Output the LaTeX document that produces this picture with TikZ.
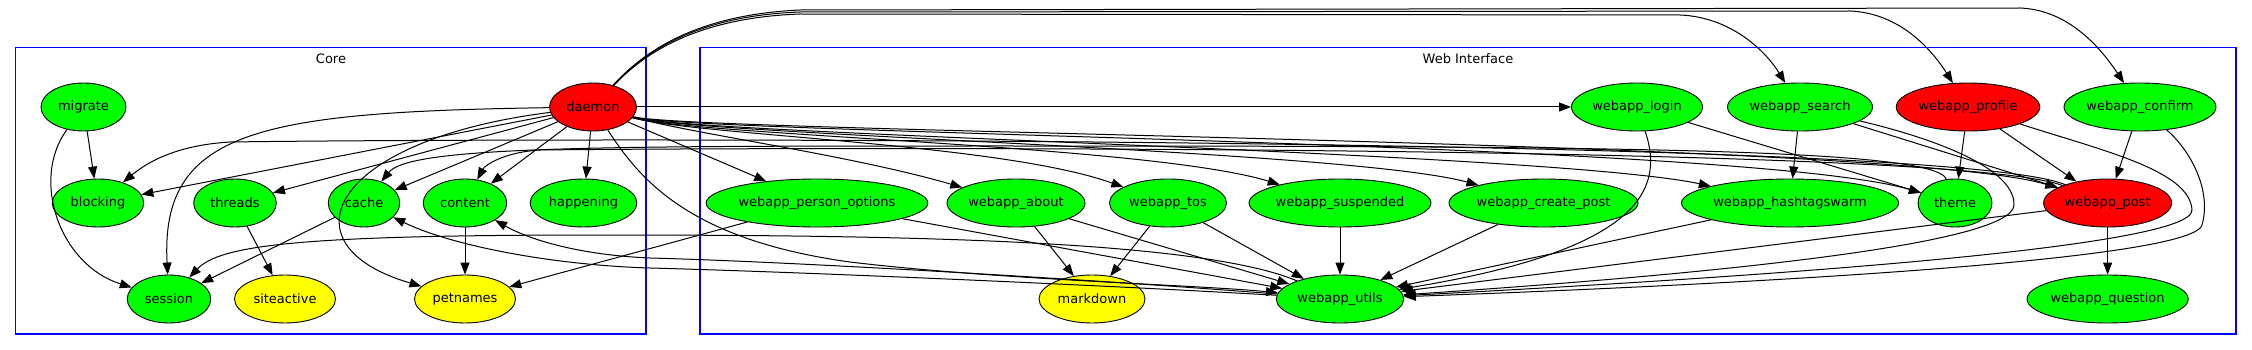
\documentclass[tikz,border=0pt]{standalone}
\usepackage{fontspec}
\setmainfont{DejaVu Sans}
\usetikzlibrary{shapes.geometric,arrows.meta}
\definecolor{ngreen}{HTML}{00FF00}
\definecolor{nred}{HTML}{FF0000}
\definecolor{nyellow}{HTML}{FFFF00}
\definecolor{cblue}{HTML}{0000FF}
\begin{document}
\begin{tikzpicture}[x=1pt,y=-1pt,
  nd/.style={ellipse,draw=black,line width=0.9pt,inner sep=0pt,minimum height=48pt,font=\fontsize{13}{15}\selectfont},
  gn/.style={nd,fill=ngreen},
  rn/.style={nd,fill=nred},
  yn/.style={nd,fill=nyellow},
  edge/.style={draw=black,line width=1pt,-{Triangle[length=12pt,width=9pt]}},
  clusterbox/.style={draw=cblue,line width=1.2pt},
  clabel/.style={font=\fontsize{13}{15}\selectfont,inner sep=0pt}]
\useasboundingbox (0,0) rectangle (2252,350);
\fill[white] (0,0) rectangle (2252,350);
% clusters
\draw[clusterbox] (15.6,47.7) rectangle (646,334);
\draw[clusterbox] (700,47.7) rectangle (2236,334);
\node[clabel] (corelabel) at (331,59) {Core};
\node[clabel] (weblabel) at (1468,59) {Web Interface};
% core nodes
\node[gn,minimum width=85pt] (migrate) at (83.5,107) {migrate};
\node[rn,minimum width=87pt] (daemon) at (593,107) {daemon};
\node[gn,minimum width=91.5pt] (blocking) at (98,203) {blocking};
\node[gn,minimum width=82.6pt] (threads) at (235,203) {threads};
\node[gn,minimum width=71.4pt] (cache) at (364,203) {cache};
\node[gn,minimum width=83.5pt] (content) at (465,203) {content};
\node[gn,minimum width=106.7pt] (happening) at (583.5,203) {happening};
\node[gn,minimum width=83.5pt] (session) at (169,299) {session};
\node[yn,minimum width=101pt] (siteactive) at (285,299) {siteactive};
\node[yn,minimum width=101pt] (petnames) at (465,299) {petnames};
% web nodes
\node[gn,minimum width=209pt] (wpo) at (817,203) {webapp\_person\_options};
\node[gn,minimum width=138pt] (wabout) at (1016,203) {webapp\_about};
\node[gn,minimum width=117pt] (wtos) at (1168,203) {webapp\_tos};
\node[gn,minimum width=178pt] (wsusp) at (1340,203) {webapp\_suspended};
\node[yn,minimum width=106pt] (markdown) at (1092,299) {markdown};
\node[gn,minimum width=127.5pt] (wutils) at (1340,299) {webapp\_utils};
\node[gn,minimum width=131pt] (wlogin) at (1637,107) {webapp\_login};
\node[gn,minimum width=145pt] (wsearch) at (1800,107) {webapp\_search};
\node[rn,minimum width=143.5pt] (wprofile) at (1968,107) {webapp\_profile};
\node[gn,minimum width=152pt] (wconfirm) at (2140,107) {webapp\_confirm};
\node[gn,minimum width=183pt] (wcreate) at (1543.5,203) {webapp\_create\_post};
\node[gn,minimum width=208pt] (whash) at (1790,203) {webapp\_hashtagswarm};
\node[gn,minimum width=74pt] (theme) at (1955,203) {theme};
\node[rn,minimum width=128pt] (wpost) at (2107.6,203) {webapp\_post};
\node[gn,minimum width=159pt] (wquestion) at (2107.6,299) {webapp\_question};
% core edges
\draw[edge] (migrate) -- (blocking);
\draw[edge] (migrate) .. controls (30,180) and (60,265) .. (session);
\draw[edge] (threads) -- (siteactive);
\draw[edge] (cache) -- (session);
\draw[edge] (content) -- (petnames);
\draw[edge] (daemon) -- (blocking);
\draw[edge] (daemon) -- (threads);
\draw[edge] (daemon) -- (cache);
\draw[edge] (daemon) -- (content);
\draw[edge] (daemon) -- (happening);
\draw[edge] (daemon) .. controls (260,112) and (160,130) .. (session);
\draw[edge] (daemon) .. controls (330,140) and (280,245) .. (petnames);
% daemon to web
\draw[edge] (daemon) -- (wlogin);
\draw[edge] (daemon) .. controls (640,58) and (690,18) .. (800,14) -- (1680,15) .. controls (1730,17) and (1765,50) .. (wsearch);
\draw[edge] (daemon) .. controls (640,57) and (690,16) .. (800,12) -- (1850,11) .. controls (1900,13) and (1932,50) .. (wprofile);
\draw[edge] (daemon) .. controls (640,56) and (690,15) .. (800,10) -- (2020,8) .. controls (2070,10) and (2102,50) .. (wconfirm);
\draw[edge] (daemon) -- (wpo);
\draw[edge] (daemon) .. controls (700,135) and (850,155) .. (wabout);
\draw[edge] (daemon) .. controls (700,136) and (1000,143) .. (wtos);
\draw[edge] (daemon) .. controls (700,136) and (1150,145) .. (wsusp);
\draw[edge] (daemon) .. controls (700,135) and (1350,150) .. (wcreate);
\draw[edge] (daemon) .. controls (700,135) and (1550,152) .. (whash);
\draw[edge] (daemon) .. controls (700,134) and (1750,142) .. (theme);
\draw[edge] (daemon) .. controls (700,133) and (1900,140) .. (wpost);
\draw[edge] (daemon) .. controls (640,180) and (690,240) .. (850,262) .. controls (1000,280) and (1200,285) .. (wutils);
% flat arcs into core
\draw[edge] (wpost) .. controls (1950,135) and (500,138) .. (230,142) .. controls (180,145) and (150,160) .. (blocking);
\draw[edge] (theme) .. controls (1935,148) and (1600,146) .. (1000,146) .. controls (600,146) and (410,146) .. (cache);
\draw[edge] (wpost) .. controls (1950,142) and (700,148) .. (540,150) .. controls (505,152) and (485,165) .. (content);
% utils back to core
\draw[edge] (wutils) .. controls (1200,240) and (900,235) .. (600,235) .. controls (300,235) and (220,245) .. (session);
\draw[edge] (wutils) .. controls (1100,285) and (800,272) .. (650,268) .. controls (550,265) and (450,245) .. (cache);
\draw[edge] (wutils) .. controls (1100,280) and (800,262) .. (650,258) .. controls (580,255) and (530,240) .. (content);
\draw[edge] (wpo) -- (petnames);
% web internal edges
\draw[edge] (wpo) -- (wutils);
\draw[edge] (wabout) -- (markdown);
\draw[edge] (wabout) -- (wutils);
\draw[edge] (wtos) -- (markdown);
\draw[edge] (wtos) -- (wutils);
\draw[edge] (wsusp) -- (wutils);
\draw[edge] (wcreate) -- (wutils);
\draw[edge] (whash) -- (wutils);
\draw[edge] (wlogin) .. controls (1665,190) and (1640,250) .. (wutils);
\draw[edge] (wlogin) -- (theme);
\draw[edge] (wsearch) -- (whash);
\draw[edge] (wsearch) -- (wpost);
\draw[edge] (wsearch) .. controls (1920,135) and (2015,165) .. (2014,205) .. controls (2013,245) and (1700,275) .. (wutils);
\draw[edge] (wprofile) -- (theme);
\draw[edge] (wprofile) -- (wpost);
\draw[edge] (wprofile) .. controls (2100,150) and (2190,170) .. (2192,210) .. controls (2194,250) and (1700,280) .. (wutils);
\draw[edge] (wconfirm) -- (wpost);
\draw[edge] (wconfirm) .. controls (2190,150) and (2212,190) .. (2202,225) .. controls (2192,262) and (1700,286) .. (wutils);
\draw[edge] (wpost) -- (wquestion);
\draw[edge] (wpost) -- (wutils);
\end{tikzpicture}
\end{document}
